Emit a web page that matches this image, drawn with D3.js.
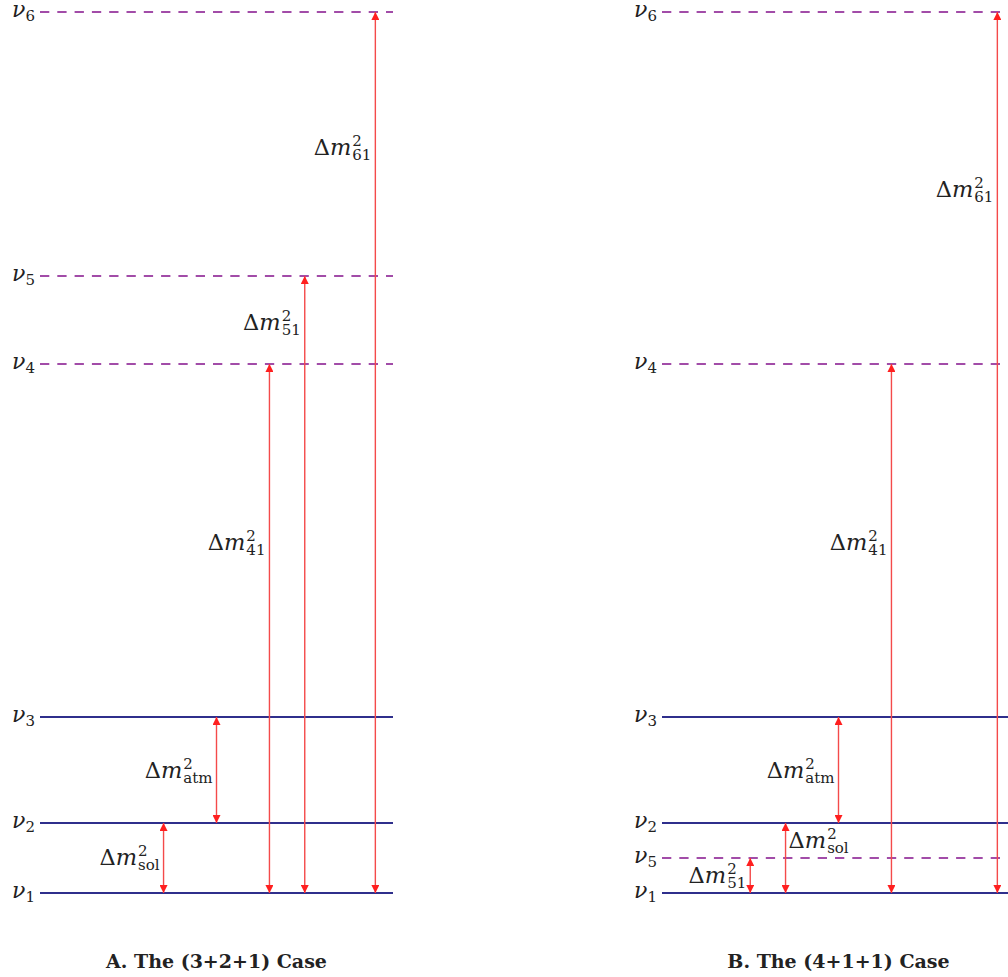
<!DOCTYPE html>
<html>
<head>
<meta charset="utf-8">
<script src="https://cdn.jsdelivr.net/npm/d3@7/dist/d3.min.js"></script>
<style>
  html, body { margin: 0; padding: 0; background: #fff; }
  svg { display: block; }
</style>
</head>
<body>
<svg id="chart" width="1008" height="977"></svg>
<script>
// ---------- DATA ----------
const levelSubs = ["1", "2", "3", "4", "5", "6"];
const levelKinds = ["active", "active", "active", "sterile", "sterile", "sterile"];
const massSqA = [0, 0.70, 1.76, 5.29, 6.17, 8.81];
const massSqB = [0, 0.70, 1.76, 5.29, 0.35, 8.81];

const arrowSubA = ["sol", "atm", "41", "51", "61"];
const arrowFromA = [1, 2, 1, 1, 1];
const arrowToA = [2, 3, 4, 5, 6];
const arrowColA = [35, 50, 65, 75, 95];
const labelLevelA = [0.28, 1.15, 3.43, 5.63, 7.38];
const labelSideA = ["left", "left", "left", "left", "left"];

const arrowSubB = ["51", "sol", "atm", "41", "61"];
const arrowFromB = [1, 1, 2, 1, 1];
const arrowToB = [5, 2, 3, 4, 6];
const arrowColB = [25, 35, 50, 65, 95];
const labelLevelB = [0.10, 0.45, 1.15, 3.43, 6.96];
const labelSideB = ["left", "right", "left", "left", "left"];

const captions = ["A. The (3+2+1) Case", "B. The (4+1+1) Case"];

// ---------- LAYOUT ----------
const svg = d3.select("#chart");
const SERIF = "'DejaVu Serif', 'Liberation Serif', serif";
const y = d3.scaleLinear().domain([0, 8.81]).range([893, 12]);
const panelW = 353;
const panelX0 = [40, 662];

const defs = svg.append("defs");
defs.append("marker")
  .attr("id", "head")
  .attr("markerUnits", "userSpaceOnUse")
  .attr("viewBox", "0 0 10 10")
  .attr("refX", 10).attr("refY", 5)
  .attr("markerWidth", 9).attr("markerHeight", 8)
  .attr("orient", "auto-start-reverse")
  .append("path")
  .attr("d", "M0,0 L10,5 L0,10 Z")
  .attr("fill", "#ff1f1f");

function deltaLabel(g, xPos, yBase, sub, side) {
  const lg = g.append("g");
  const t = lg.append("text")
    .attr("x", 0).attr("y", yBase)
    .attr("font-family", SERIF).attr("font-size", 22.5).attr("fill", "#222");
  t.append("tspan").text("Δ");
  t.append("tspan").attr("font-style", "italic").text("m");
  const w = t.node().getComputedTextLength();
  const sup = lg.append("text")
    .attr("x", w + 1).attr("y", yBase - 9)
    .attr("font-family", SERIF).attr("font-size", 15).attr("fill", "#222")
    .text("2");
  const sb = lg.append("text")
    .attr("x", w + 1).attr("y", yBase + 5)
    .attr("font-family", SERIF).attr("font-size", 15).attr("fill", "#222")
    .text(sub);
  const total = w + 1 + Math.max(sup.node().getComputedTextLength(), sb.node().getComputedTextLength());
  const tx = side === "left" ? xPos - 4 - total : xPos + 3;
  lg.attr("transform", `translate(${tx},0)`);
}

function drawPanel(i, massSq, aSub, aFrom, aTo, aCol, lLevel, lSide) {
  const x0 = panelX0[i];
  const x = d3.scaleLinear().domain([0, 100]).range([x0, x0 + panelW]);
  const g = svg.append("g");

  // levels
  massSq.forEach((v, k) => {
    const sterile = levelKinds[k] === "sterile";
    g.append("line")
      .attr("x1", x(0)).attr("x2", x(100))
      .attr("y1", y(v)).attr("y2", y(v))
      .attr("stroke", sterile ? "#a24ca8" : "#2f2f8c")
      .attr("stroke-width", 1.8)
      .attr("stroke-dasharray", sterile ? "9.3,8" : null);
    const t = g.append("text")
      .attr("x", x(0) - 5).attr("y", y(v) + 5)
      .attr("text-anchor", "end")
      .attr("font-family", SERIF).attr("fill", "#222");
    t.append("tspan").attr("font-size", 22).attr("font-style", "italic").text("ν");
    t.append("tspan").attr("font-size", 15).attr("dy", 4).text(levelSubs[k]);
  });

  // arrows
  aSub.forEach((s, k) => {
    const xa = x(aCol[k]);
    g.append("line")
      .attr("x1", xa).attr("x2", xa)
      .attr("y1", y(massSq[aFrom[k] - 1])).attr("y2", y(massSq[aTo[k] - 1]))
      .attr("stroke", "#f44a4a").attr("stroke-width", 1.4)
      .attr("marker-start", "url(#head)")
      .attr("marker-end", "url(#head)");
    deltaLabel(g, xa, y(lLevel[k]), s, lSide[k]);
  });

  // caption
  g.append("text")
    .attr("x", x(50)).attr("y", 968)
    .attr("text-anchor", "middle")
    .attr("font-family", SERIF).attr("font-weight", "bold")
    .attr("font-size", 19).attr("fill", "#222")
    .text(captions[i]);
}

drawPanel(0, massSqA, arrowSubA, arrowFromA, arrowToA, arrowColA, labelLevelA, labelSideA);
drawPanel(1, massSqB, arrowSubB, arrowFromB, arrowToB, arrowColB, labelLevelB, labelSideB);
</script>
</body>
</html>
